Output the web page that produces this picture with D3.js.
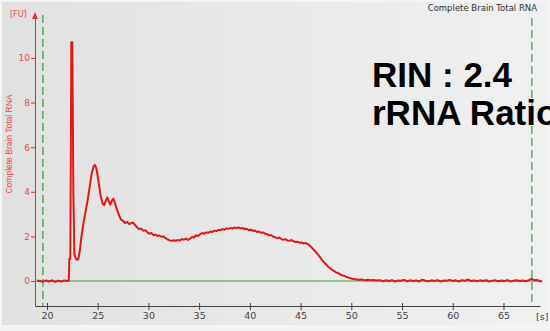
<!DOCTYPE html>
<html>
<head>
<meta charset="utf-8">
<script src="https://cdn.jsdelivr.net/npm/d3@7"></script>
<style>
  html, body { margin: 0; padding: 0; background: #ffffff; }
  svg { display: block; }
</style>
</head>
<body>
<svg id="chart" width="550" height="331"></svg>
<script>
// Electropherogram trace: migration time [s] and fluorescence [FU]
const times = [
  19.0, 19.3, 19.6, 19.9, 20.2, 20.5, 20.8, 21.1, 21.4, 21.7, 22.0, 22.15,
  22.2, 22.3, 22.35, 22.4, 22.5, 22.55, 22.6, 22.7, 22.85, 23.0, 23.1, 23.25,
  23.4, 23.6, 23.8, 24.0, 24.2, 24.4, 24.6, 24.75, 24.9, 25.1, 25.3, 25.5,
  25.65, 25.8, 25.95, 26.1, 26.25, 26.4, 26.55, 26.7, 26.9, 27.1, 27.3, 27.5,
  27.7, 27.9, 28.1, 28.3, 28.5, 28.7, 28.9, 29.1, 29.3, 29.5, 29.7, 29.9,
  30.1, 30.3, 30.5, 30.7, 30.9, 31.1, 31.3, 31.5, 31.7, 31.9, 32.1, 32.3,
  32.5, 32.7, 32.9, 33.1, 33.3, 33.5, 33.7, 33.9, 34.1, 34.3, 34.5, 34.7,
  34.9, 35.1, 35.3, 35.5, 35.7, 35.9, 36.1, 36.3, 36.5, 36.7, 36.9, 37.1,
  37.3, 37.5, 37.7, 37.9, 38.1, 38.3, 38.5, 38.7, 38.9, 39.1, 39.3, 39.5,
  39.7, 39.9, 40.1, 40.3, 40.5, 40.7, 40.9, 41.1, 41.3, 41.5, 41.7, 41.9,
  42.1, 42.3, 42.5, 42.7, 42.9, 43.1, 43.3, 43.5, 43.7, 43.9, 44.1, 44.3,
  44.5, 44.7, 44.9, 45.1, 45.3, 45.5, 45.7, 45.9, 46.1, 46.3, 46.5, 46.7,
  46.9, 47.1, 47.3, 47.5, 47.7, 47.9, 48.1, 48.3, 48.5, 48.7, 48.9, 49.1,
  49.3, 49.5, 49.7, 49.9, 50.1, 50.4, 50.7, 51.0, 51.3, 51.6, 51.9, 52.2,
  52.5, 52.8, 53.1, 53.4, 53.7, 54.0, 54.3, 54.6, 54.9, 55.2, 55.5, 55.8,
  56.1, 56.4, 56.7, 57.0, 57.3, 57.6, 57.9, 58.2, 58.5, 58.8, 59.1, 59.4,
  59.7, 60.0, 60.3, 60.6, 60.9, 61.2, 61.5, 61.8, 62.1, 62.4, 62.7, 63.0,
  63.3, 63.6, 63.9, 64.2, 64.5, 64.8, 65.1, 65.4, 65.7, 66.0, 66.3, 66.6,
  66.9, 67.2, 67.5, 67.8, 68.0, 68.3, 68.6, 68.8
];
const fu = [
  0.02, 0.00, -0.03, 0.02, -0.02, 0.03, -0.04, 0.01, -0.02, 0.02, 0.00, 0.02,
  1.00, 1.00, 5.50, 10.70, 10.70, 7.50, 4.00, 1.20, 1.00, 0.95, 1.00, 1.40,
  2.00, 2.60, 3.10, 3.60, 4.20, 4.80, 5.15, 5.20, 5.00, 4.40, 3.80, 3.45,
  3.40, 3.60, 3.75, 3.55, 3.42, 3.60, 3.70, 3.50, 3.20, 2.95, 2.75, 2.70,
  2.60, 2.65, 2.55, 2.60, 2.62, 2.50, 2.40, 2.32, 2.35, 2.25, 2.28, 2.18,
  2.12, 2.15, 2.05, 2.08, 2.02, 2.04, 1.98, 2.00, 1.92, 1.86, 1.82, 1.80,
  1.83, 1.80, 1.84, 1.82, 1.88, 1.85, 1.90, 1.84, 1.90, 1.97, 1.95, 2.05,
  2.02, 2.10, 2.15, 2.12, 2.18, 2.16, 2.22, 2.20, 2.26, 2.24, 2.30, 2.28,
  2.33, 2.30, 2.36, 2.34, 2.38, 2.35, 2.40, 2.37, 2.40, 2.36, 2.38, 2.32,
  2.34, 2.28, 2.30, 2.25, 2.26, 2.20, 2.22, 2.16, 2.18, 2.12, 2.10, 2.04,
  2.06, 1.98, 1.96, 1.92, 1.95, 1.88, 1.85, 1.88, 1.82, 1.80, 1.84, 1.78,
  1.75, 1.76, 1.72, 1.73, 1.68, 1.70, 1.66, 1.60, 1.50, 1.40, 1.30, 1.20,
  1.08, 0.95, 0.85, 0.75, 0.65, 0.58, 0.50, 0.45, 0.38, 0.36, 0.30, 0.25,
  0.24, 0.18, 0.16, 0.12, 0.10, 0.08, 0.06, 0.07, 0.04, 0.06, 0.03, 0.05,
  0.02, 0.04, -0.01, 0.03, 0.00, 0.04, -0.02, 0.02, 0.01, 0.05, -0.01, 0.03,
  0.00, 0.02, -0.02, 0.06, 0.01, -0.01, 0.03, 0.00, 0.04, -0.02, 0.02, 0.01,
  0.05, 0.00, 0.03, -0.02, 0.04, 0.01, 0.07, 0.00, 0.02, -0.01, 0.03, 0.00,
  0.04, -0.02, 0.01, 0.03, -0.01, 0.02, 0.00, 0.04, -0.02, 0.01, 0.03, 0.00,
  0.02, -0.01, 0.04, 0.10, 0.03, 0.05, -0.02, 0.00
];
const xTicks = [20, 25, 30, 35, 40, 45, 50, 55, 60, 65];
const yTicks = [0, 2, 4, 6, 8, 10];
const markers = [19.6, 67.8];   // lower / upper marker positions [s]
const title = "Complete Brain Total RNA";
const yLabel = "Complete Brain Total RNA";
const annotations = ["RIN : 2.4", "rRNA Ratio [28s / 18s]: 0.0"];

const svg = d3.select("#chart");
const W = 550, H = 331;

// background
const defs = svg.append("defs");
const grad = defs.append("linearGradient").attr("id", "bg").attr("x1", 0).attr("x2", 1).attr("y1", 0).attr("y2", 0);
grad.append("stop").attr("offset", "0%").attr("stop-color", "#e1e1e1");
grad.append("stop").attr("offset", "100%").attr("stop-color", "#f0f0f0");
svg.append("rect").attr("width", W).attr("height", H).attr("fill", "#f4f4f4");
svg.append("rect").attr("x", 2).attr("y", 2).attr("width", W - 4).attr("height", H - 8).attr("fill", "url(#bg)");

const x = d3.scaleLinear().domain([18.82, 68.6]).range([35, 540]);
const y = d3.scaleLinear().domain([-1.12, 11.97]).range([306, 14]);

// marker lines
svg.selectAll("line.marker").data(markers).join("line")
  .attr("class", "marker")
  .attr("x1", d => x(d)).attr("x2", d => x(d))
  .attr("y1", (d, i) => i === 0 ? 15 : 18).attr("y2", 306)
  .attr("stroke", "#3c9e3c").attr("stroke-width", 1.2)
  .attr("stroke-dasharray", "8,4");

// baseline
svg.append("line")
  .attr("x1", x(19.0)).attr("x2", x(68.8))
  .attr("y1", y(0)).attr("y2", y(0))
  .attr("stroke", "#3aa03a").attr("stroke-width", 1.2);

// trace
const pts = times.map((t, i) => [t, fu[i]]);
const line = d3.line().x(d => x(d[0])).y(d => y(d[1]));
svg.append("path").datum(pts)
  .attr("d", line)
  .attr("fill", "none")
  .attr("stroke", "#e01818")
  .attr("stroke-width", 2)
  .attr("stroke-linejoin", "round");

// x axis
const xAxis = svg.append("g").attr("transform", `translate(0,306)`)
  .call(d3.axisBottom(x).tickValues(xTicks).tickSize(4).tickSizeOuter(0));
xAxis.select(".domain").attr("stroke", "#444");
xAxis.selectAll(".tick line").attr("y1", -3).attr("y2", 4).attr("stroke", "#444");
xAxis.selectAll(".tick text")
  .attr("y", 6).attr("fill", "#444")
  .style("font-family", "'DejaVu Sans', sans-serif").style("font-size", "9.5px");
svg.append("text").attr("x", 536).attr("y", 320)
  .attr("fill", "#444").style("font-family", "'DejaVu Sans', sans-serif").style("font-size", "9.5px")
  .text("[s]");

// y axis
const yAxis = svg.append("g").attr("transform", `translate(35,0)`)
  .call(d3.axisLeft(y).tickValues(yTicks).tickSize(4).tickSizeOuter(0));
yAxis.select(".domain").attr("stroke", "#e03030");
yAxis.selectAll(".tick line").attr("stroke", "#e03030");
yAxis.selectAll(".tick text")
  .attr("x", -5).attr("fill", "#e84a4a")
  .style("font-family", "'DejaVu Sans', sans-serif").style("font-size", "9px");
svg.append("path")
  .attr("d", "M35,12 L32,19 L38,19 Z")
  .attr("fill", "#e03030");
svg.append("text").attr("x", 10).attr("y", 17)
  .attr("fill", "#e84a4a").style("font-family", "'DejaVu Sans', sans-serif").style("font-size", "8px")
  .text("[FU]");
svg.append("text")
  .attr("transform", "translate(12,144) rotate(-90)")
  .attr("text-anchor", "middle")
  .attr("fill", "#e84a4a").style("font-family", "'Liberation Sans', sans-serif").style("font-size", "8.5px")
  .text(yLabel);

// title
svg.append("text").attr("x", 537).attr("y", 11).attr("text-anchor", "end")
  .attr("fill", "#333").style("font-family", "'DejaVu Sans', sans-serif").style("font-size", "8.5px")
  .text(title);

// annotations
svg.selectAll("text.note").data(annotations).join("text")
  .attr("class", "note")
  .attr("x", 372).attr("y", (d, i) => 87 + i * 37.5)
  .attr("fill", "#000")
  .style("font-family", "'Liberation Sans', Arial, sans-serif")
  .style("font-weight", "bold").style("font-size", "35px")
  .text(d => d);
</script>
</body>
</html>
